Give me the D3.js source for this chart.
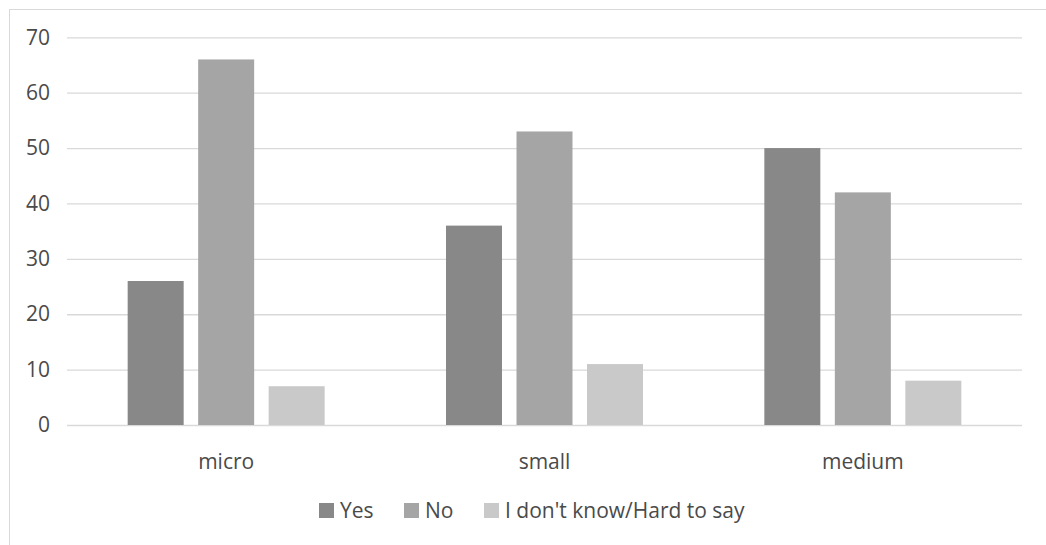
<!DOCTYPE html>
<html>
<head>
<meta charset="utf-8">
<script src="https://cdn.jsdelivr.net/npm/d3@7"></script>
<style>
  html, body { margin: 0; padding: 0; background: #fff; }
  svg { display: block; font-family: "Open Sans", "Noto Sans", sans-serif; }
</style>
</head>
<body>
<svg id="chart" width="1046" height="545"></svg>
<script>
// Survey answers by company size
const categories = ["micro", "small", "medium"];
const seriesNames = ["Yes", "No", "I don't know/Hard to say"];
const yesValues = [26, 36, 50];
const noValues = [66, 53, 42];
const dontKnowValues = [7, 11, 8];
const yTicks = [0, 10, 20, 30, 40, 50, 60, 70];
const seriesColors = ["#888888", "#a5a5a5", "#c9c9c9"];

const seriesValues = [yesValues, noValues, dontKnowValues];
const rows = categories.map((c, i) => ({
  category: c,
  values: seriesNames.map((s, j) => ({ series: s, value: seriesValues[j][i], color: seriesColors[j] }))
}));

const textColor = "#4a4a4a";
const fontSize = "21px";

const svg = d3.select("#chart");
const plot = { left: 67, right: 1022, top: 37.3, bottom: 425 };

// outer chart frame
svg.append("rect")
  .attr("x", 9.5).attr("y", 9.5)
  .attr("width", 1100).attr("height", 600)
  .attr("fill", "none").attr("stroke", "#d9d9d9").attr("stroke-width", 1);

const y = d3.scaleLinear().domain([0, 70]).range([plot.bottom, plot.top]);
const x0 = d3.scaleBand().domain(categories).range([plot.left, plot.right]);

const step = 70.5, barW = 56;
const inner = (step - barW) / step;
const x1 = d3.scaleBand().domain(seriesNames)
  .range([-1.5 * step, 1.5 * step])
  .paddingInner(inner).paddingOuter(inner / 2);

// gridlines + y tick labels
const yAxis = d3.axisLeft(y).tickValues(yTicks).tickSize(-(plot.right - plot.left)).tickPadding(17);
const gy = svg.append("g").attr("transform", `translate(${plot.left},0)`).call(yAxis);
gy.select(".domain").remove();
gy.selectAll(".tick line").attr("stroke", "#d9d9d9").attr("stroke-width", 1.3);
gy.selectAll(".tick text")
  .attr("fill", textColor).style("font-size", fontSize)
  .attr("font-family", "'Open Sans', sans-serif");

// bars
const groups = svg.append("g").selectAll("g").data(rows).join("g")
  .attr("transform", d => `translate(${x0(d.category) + x0.bandwidth() / 2},0)`);
groups.selectAll("rect").data(d => d.values).join("rect")
  .attr("x", d => x1(d.series))
  .attr("width", x1.bandwidth())
  .attr("y", d => y(d.value))
  .attr("height", d => y(0) - y(d.value))
  .attr("fill", d => d.color);

// category axis labels
const xAxis = d3.axisBottom(x0).tickSize(0).tickPadding(29);
const gx = svg.append("g").attr("transform", `translate(0,${plot.bottom})`).call(xAxis);
gx.select(".domain").remove();
gx.selectAll(".tick text")
  .attr("fill", textColor).style("font-size", fontSize)
  .attr("font-family", "'Open Sans', sans-serif");

// legend
const legendX = [319, 404, 484];
const legend = svg.append("g").selectAll("g").data(seriesNames).join("g")
  .attr("transform", (d, i) => `translate(${legendX[i]},503)`);
legend.append("rect").attr("width", 15).attr("height", 15)
  .attr("fill", (d, i) => seriesColors[i]);
legend.append("text")
  .attr("x", 21).attr("y", 15)
  .attr("fill", textColor).style("font-size", fontSize)
  .text(d => d);
</script>
</body>
</html>
